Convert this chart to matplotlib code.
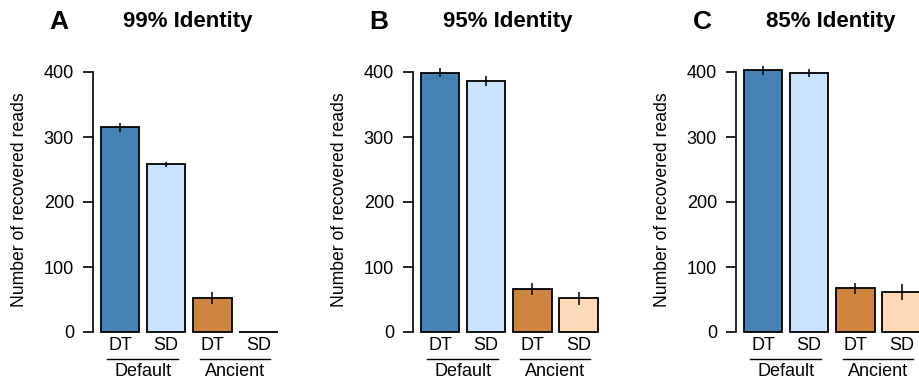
import matplotlib
matplotlib.use("Agg")
import matplotlib.pyplot as plt
import numpy as np

plt.rcParams['font.family'] = ['Liberation Sans', 'DejaVu Sans']

panel_letters = ["A", "B", "C"]
titles = ["99% Identity", "95% Identity", "85% Identity"]
bar_labels = ["DT", "SD", "DT", "SD"]
group_labels = ["Default", "Ancient"]
colors = ["#4682B4", "#CAE1FF", "#CD853F", "#FFDAB9"]

values_99 = [315, 258, 52, 0]
errors_99 = [7, 4, 9, 0]
values_95 = [399, 386, 66, 52]
errors_95 = [7, 8, 9, 10]
values_85 = [403, 398, 67, 62]
errors_85 = [7, 6, 9, 12]

all_values = [values_99, values_95, values_85]
all_errors = [errors_99, errors_95, errors_85]
yticks = [0, 100, 200, 300, 400]

W, H = 920, 382
fig = plt.figure(figsize=(W / 100, H / 100), dpi=100)

unit = 38.5
ax_lefts = [93, 413, 736]
ax_top, ax_bot = 72, 332
centers = np.array([0.7, 1.9, 3.1, 4.3])
ppu = (ax_bot - ax_top) / 400.0

for i in range(3):
    left = ax_lefts[i]
    ax = fig.add_axes([left / W, 1 - ax_bot / H, 4.8 * unit / W, (ax_bot - ax_top) / H])
    ax.set_xlim(0, 4.8)
    ax.set_ylim(0, 400)
    bars = ax.bar(centers, all_values[i], width=1.0, color=colors, edgecolor="black",
                  linewidth=1.3, zorder=2)
    for b in bars:
        b.set_clip_on(False)
    ax.errorbar(centers, all_values[i], yerr=all_errors[i], fmt="none",
                ecolor="black", elinewidth=1.1, capsize=0, zorder=3, clip_on=False)
    for sp in ["top", "right", "bottom"]:
        ax.spines[sp].set_visible(False)
    ax.spines["left"].set_linewidth(1.2)
    ax.spines["left"].set_bounds(0, 400)
    ax.set_yticks(yticks)
    ax.tick_params(axis="y", length=7.2, width=1.2, pad=6.5, labelsize=13)
    ax.set_xticks([])
    for c, lab in zip(centers, bar_labels):
        ax.text(c, -14 / ppu, lab, ha="center", va="center",
                fontsize=13, clip_on=False)
    for g, lab in enumerate(group_labels):
        c0, c1 = centers[2 * g], centers[2 * g + 1]
        yl = -26.5 / ppu
        ax.plot([c0 - 0.33, c1 + 0.31], [yl, yl], color="black", lw=1.0, clip_on=False)
        ax.text((c0 + c1) / 2, -40 / ppu, lab, ha="center",
                va="center", fontsize=13, clip_on=False)
    fig.text((left + 2.4 * unit + 2) / W, 1 - 22 / H, titles[i], ha="center",
             va="center", fontsize=16, fontweight="bold")
    fig.text((left - 34) / W, 1 - 22 / H, panel_letters[i], ha="center",
             va="center", fontsize=19, fontweight="bold")
    fig.text((left - 73) / W, 1 - 200 / H, "Number of recovered reads",
             rotation=90, ha="center", va="center", fontsize=12.7)

fig.savefig("out.png", dpi=100)
